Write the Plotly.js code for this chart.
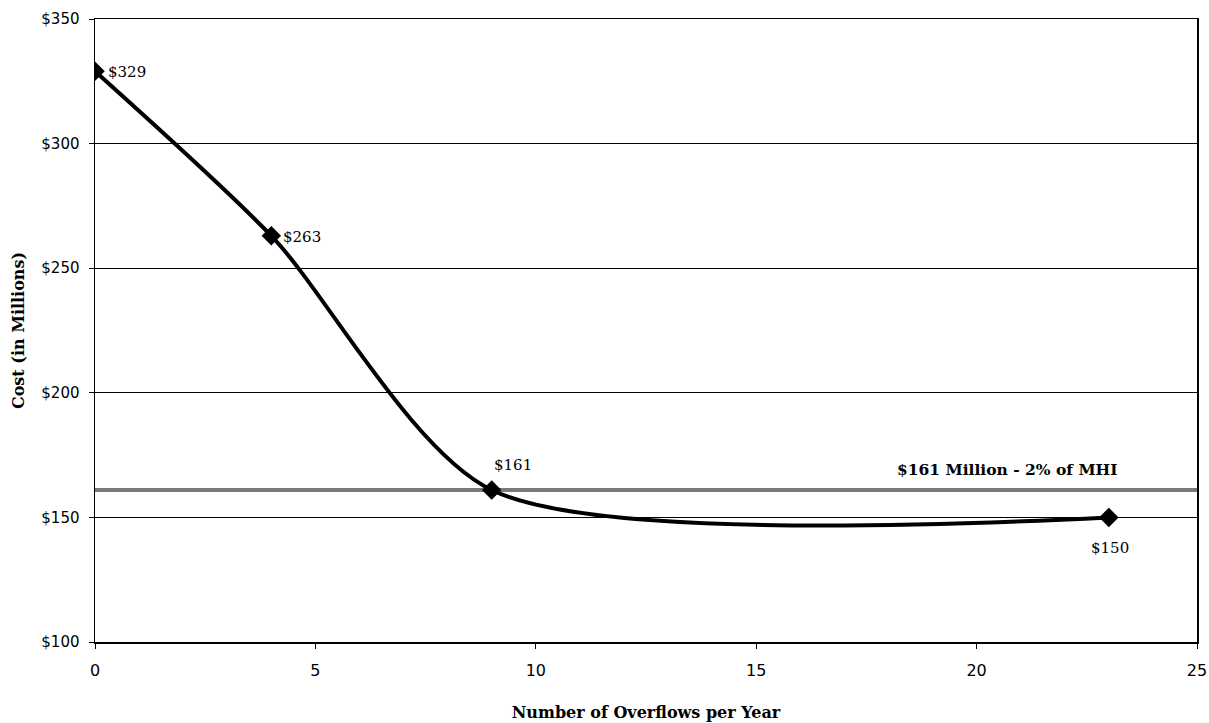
<!DOCTYPE html>
<html>
<head>
<meta charset="utf-8">
<script src="https://cdn.plot.ly/plotly-3.0.1.min.js"></script>
<style>html,body{margin:0;padding:0;background:#fff;}#chart{width:1209px;height:723px;}</style>
</head>
<body>
<div id="chart"></div>
<script>
const overflows = [0, 4, 9, 23];
const costs = [329, 263, 161, 150];
const pointLabels = ['$329', '$263', '$161', '$150'];
const thresholdX = [0, 25];
const thresholdY = [161, 161];
const thresholdLabel = '$161 Million - 2% of MHI';
const yTickVals = [100, 150, 200, 250, 300, 350];
const yTickText = ['$100', '$150', '$200', '$250', '$300', '$350'];
const xTickVals = [0, 5, 10, 15, 20, 25];

const serif = 'DejaVu Serif, Liberation Serif, serif';
const sans = 'DejaVu Sans, Liberation Sans, sans-serif';

const traces = [
  {
    x: thresholdX, y: thresholdY, mode: 'lines', type: 'scatter',
    line: {color: '#7a7a7a', width: 4}, hoverinfo: 'skip', showlegend: false
  },
  {
    x: overflows, y: costs, mode: 'lines+markers', type: 'scatter',
    line: {color: '#000', width: 4, shape: 'spline', smoothing: 0.75},
    marker: {symbol: 'diamond', size: 15, color: '#000'},
    showlegend: false
  }
];

const labelOffsets = [
  {ax: 32, ay: 1},
  {ax: 31, ay: 1},
  {ax: 21, ay: -25},
  {ax: 1, ay: 31}
];

const annotations = overflows.map((x, i) => ({
  x: x, y: costs[i], text: pointLabels[i], showarrow: true, arrowcolor: 'rgba(0,0,0,0)',
  ax: labelOffsets[i].ax, ay: labelOffsets[i].ay, xanchor: 'center',
  font: {family: serif, size: 15, color: '#000'}
}));
annotations.push({
  x: 20.7, y: thresholdY[0], text: '<b>' + thresholdLabel + '</b>', showarrow: false,
  yanchor: 'bottom', yshift: 9, font: {family: serif, size: 15.5, color: '#000'}
});

const layout = {
  width: 1209, height: 723,
  margin: {l: 95, r: 12, t: 19, b: 81},
  paper_bgcolor: '#fff', plot_bgcolor: '#fff',
  xaxis: {
    range: [0, 25], tickvals: xTickVals, showgrid: false, zeroline: false,
    showline: true, linecolor: '#000', linewidth: 1.5, mirror: true,
    ticks: 'outside', ticklen: 5, tickcolor: '#000', ticklabelstandoff: 8,
    tickfont: {family: sans, size: 16, color: '#000'},
    title: {text: '<b>Number of Overflows per Year</b>', font: {family: serif, size: 16, color: '#000'}, standoff: 28}
  },
  yaxis: {
    range: [100, 350], tickvals: yTickVals, ticktext: yTickText,
    showgrid: true, gridcolor: '#000', gridwidth: 1, zeroline: false,
    showline: true, linecolor: '#000', linewidth: 1.5, mirror: true,
    ticks: 'outside', ticklen: 5, tickcolor: '#000', ticklabelstandoff: 6,
    tickfont: {family: sans, size: 15, color: '#000'},
    title: {text: '<b>Cost (in Millions)</b>', font: {family: serif, size: 16, color: '#000'}, standoff: 12}
  },
  annotations: annotations
};

Plotly.newPlot('chart', traces, layout, {displayModeBar: false, staticPlot: true});
</script>
</body>
</html>
